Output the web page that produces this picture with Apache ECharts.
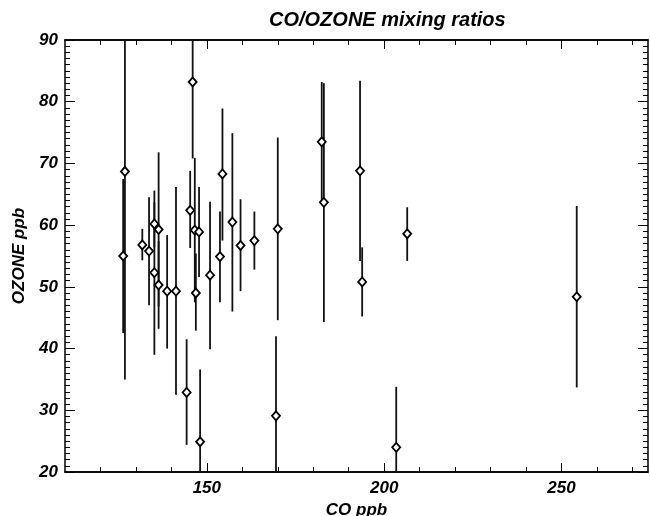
<!DOCTYPE html>
<html>
<head>
<meta charset="utf-8">
<script src="https://cdn.jsdelivr.net/npm/echarts@6/dist/echarts.min.js"></script>
<style>html,body{margin:0;padding:0;background:#fff;}#c{width:650px;height:516px;}</style>
</head>
<body>
<div id="c"></div>
<script>
// CO (ppb) for each sample
const co = [126.4,126.9,131.8,133.7,135.2,135.2,136.4,136.4,138.8,141.3,144.3,145.3,146.0,146.6,146.9,147.8,148.1,150.9,153.7,154.4,157.2,159.5,163.4,169.5,170.0,182.4,183.0,193.2,193.8,203.4,206.5,254.3];
// OZONE (ppb) for each sample
const ozone = [55.0,68.7,56.8,55.8,60.2,52.3,59.3,50.3,49.3,49.3,32.9,62.4,83.2,59.2,49.0,58.9,24.9,51.9,54.9,68.3,60.5,56.7,57.5,29.1,59.4,73.5,63.7,68.8,50.8,24.0,58.6,48.4];
// error bar lower / upper ends (ppb)
const ozoneLow = [42.5,35.0,54.3,47.0,56.4,39.0,46.8,43.2,40.0,32.5,24.4,56.3,70.8,47.5,42.9,51.6,13.2,39.9,47.5,57.5,46.0,49.3,52.8,16.2,44.6,63.8,44.3,54.2,45.2,14.2,54.2,33.7];
const ozoneHigh = [67.5,102.4,59.4,64.5,63.7,65.6,71.8,57.4,58.4,66.2,41.5,68.8,95.6,70.9,55.4,66.2,36.6,63.8,62.2,78.9,74.9,64.2,62.2,42.0,74.2,83.2,83.0,83.4,56.4,33.8,62.9,63.1];
// axis ticks
const xMinorTicks = [120,130,140,160,170,180,190,210,220,230,240,260,270];
const xMajorTicks = [150,200,250];

const pts = co.map((v,i)=>[v, ozone[i]]);
const bars = co.map((v,i)=>[v, ozoneLow[i], ozoneHigh[i]]);

const font = {fontFamily:'Liberation Sans, Arial, sans-serif', fontWeight:'bold', fontStyle:'italic', color:'#000'};
const XMIN=110, XMAX=274.4, YMIN=20, YMAX=90;
const lineStyle = {color:'#000', width:1.5};

function xAx(pos, ticks, len, showLabel, showName){
  return {
    type:'value', position:pos, min:XMIN, max:XMAX,
    axisLine:{show:true, onZero:false, lineStyle},
    axisTick:{show:true, inside:true, length:len, customValues:ticks, lineStyle:{color:'#000',width:1}},
    axisLabel:{show:showLabel, customValues:xMajorTicks, margin:8, fontSize:17, ...font},
    splitLine:{show:false},
    name: showName ? 'CO ppb' : '', nameLocation:'middle', nameGap:27,
    nameTextStyle:{fontSize:17, ...font}
  };
}

const chart = echarts.init(document.getElementById('c'), null, {renderer:'canvas'});
chart.setOption({
  animation:false,
  backgroundColor:'#fff',
  title:{text:'CO/OZONE mixing ratios', left:264, top:5,
    textStyle:{fontSize:20, ...font}},
  grid:{left:65, right:2, top:40, bottom:44, containLabel:false, outerBoundsMode:'none'},
  xAxis:[
    xAx('bottom', xMinorTicks, 5, true, true),
    xAx('bottom', xMajorTicks, 9, false, false),
    xAx('top', xMinorTicks, 5, false, false),
    xAx('top', xMajorTicks, 9, false, false)
  ],
  yAxis:[
    {type:'value', position:'left', min:YMIN, max:YMAX, interval:10,
      axisLine:{show:true, onZero:false, lineStyle},
      axisTick:{show:true, inside:true, length:10, lineStyle:{color:'#000',width:1}},
      minorTick:{show:true, splitNumber:10, length:5, lineStyle:{color:'#000',width:1}},
      axisLabel:{margin:7, fontSize:17, ...font},
      splitLine:{show:false}, minorSplitLine:{show:false},
      name:'OZONE ppb', nameLocation:'middle', nameGap:37, nameRotate:90,
      nameTextStyle:{fontSize:17, ...font}},
    {type:'value', position:'right', min:YMIN, max:YMAX, interval:10,
      axisLine:{show:true, onZero:false, lineStyle},
      axisTick:{show:true, inside:true, length:10, lineStyle:{color:'#000',width:1}},
      minorTick:{show:true, splitNumber:10, length:5, lineStyle:{color:'#000',width:1}},
      axisLabel:{show:false}, splitLine:{show:false}, minorSplitLine:{show:false}}
  ],
  series:[
    {type:'custom', xAxisIndex:0, yAxisIndex:0, clip:true, data:bars,
      renderItem:function(params, api){
        const p1 = api.coord([api.value(0), api.value(1)]);
        const p2 = api.coord([api.value(0), api.value(2)]);
        return {type:'line', shape:{x1:p1[0], y1:p1[1], x2:p2[0], y2:p2[1]},
          style:{stroke:'#111', lineWidth:1.8}};
      }, silent:true, z:2},
    {type:'scatter', xAxisIndex:0, yAxisIndex:0, data:pts, symbol:'diamond', symbolSize:[8,9],
      itemStyle:{color:'#fff', borderColor:'#000', borderWidth:1.8, opacity:1}, z:3, silent:true}
  ]
});
</script>
</body>
</html>
